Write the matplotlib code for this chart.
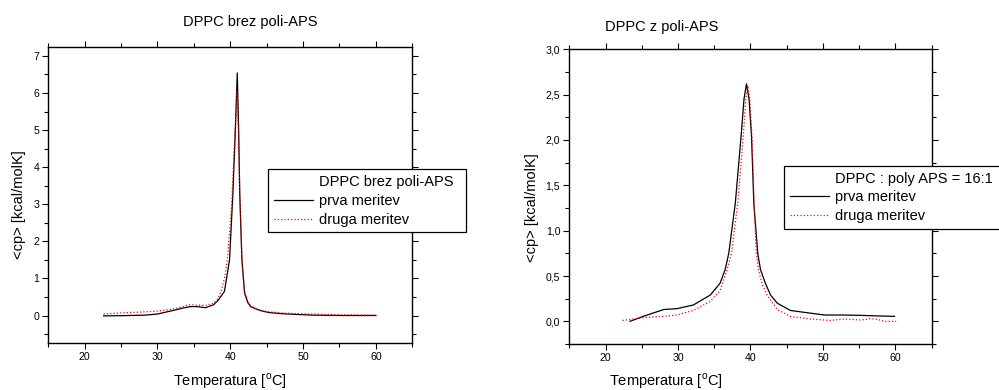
import matplotlib
matplotlib.use("Agg")
import matplotlib.pyplot as plt
from matplotlib.lines import Line2D
from matplotlib.ticker import MultipleLocator

plt.rcParams['font.family'] = ['Liberation Sans', 'DejaVu Sans']
plt.rcParams['mathtext.fontset'] = 'custom'
plt.rcParams['mathtext.rm'] = 'Liberation Sans'

# --- DPPC brez poli-APS (levi graf) ---
t1_prva = [22.6, 25.0, 28.3, 30.0, 32.0, 33.5, 34.5, 35.5, 36.6, 37.7, 38.3, 39.2,
           39.9, 40.36, 40.7, 40.96, 41.15, 41.3, 41.6, 41.97, 42.4, 42.8, 43.5,
           44.2, 45.3, 47.0, 49.0, 51.3, 55.0, 60.0]
cp1_prva = [-0.01, -0.005, 0.01, 0.04, 0.13, 0.2, 0.24, 0.24, 0.21, 0.29, 0.4, 0.65,
            1.5, 3.3, 5.0, 6.54, 5.0, 3.3, 1.5, 0.6, 0.35, 0.24, 0.18,
            0.13, 0.08, 0.05, 0.03, 0.01, 0.0, 0.0]
t1_druga = [22.6, 25.0, 28.35, 30.0, 32.0, 33.5, 34.3, 35.5, 36.6, 37.7, 38.3, 38.8,
            39.2, 39.6, 40.2, 40.6, 40.95, 41.15, 41.3, 41.6, 41.95, 42.4, 42.8,
            43.5, 44.2, 45.3, 47.0, 49.0, 51.3, 55.0, 60.0]
cp1_druga = [0.04, 0.07, 0.10, 0.12, 0.17, 0.24, 0.29, 0.28, 0.27, 0.33, 0.45, 0.69,
             1.0, 1.5, 3.0, 4.8, 6.03, 4.8, 3.3, 1.5, 0.65, 0.38, 0.26,
             0.19, 0.14, 0.1, 0.07, 0.05, 0.04, 0.02, 0.01]

# --- DPPC z poli-APS (desni graf) ---
t2_prva = [23.37, 25.2, 28.0, 29.84, 32.1, 34.45, 35.8, 36.5, 37.0, 37.9, 38.7, 39.1,
           39.45, 39.8, 40.14, 40.46, 41.0, 41.38, 42.1, 42.77, 43.7, 45.5, 48.3,
           50.2, 52.5, 55.2, 57.5, 59.86]
cp2_prva = [0.0, 0.055, 0.13, 0.14, 0.18, 0.29, 0.42, 0.57, 0.75, 1.30, 2.04, 2.45,
            2.62, 2.45, 2.04, 1.30, 0.75, 0.57, 0.41, 0.29, 0.2, 0.12, 0.09,
            0.07, 0.07, 0.066, 0.06, 0.055]
t2_druga = [22.35, 25.2, 28.0, 29.84, 32.1, 34.45, 35.8, 36.77, 37.37, 38.24, 39.0,
            39.35, 39.63, 39.9, 40.2, 40.5, 40.8, 41.1, 41.6, 42.3, 43.7, 45.5,
            48.3, 51.0, 52.9, 55.2, 56.6, 57.6, 58.5, 60.1]
cp2_druga = [0.01, 0.04, 0.055, 0.07, 0.12, 0.22, 0.34, 0.57, 0.75, 1.30, 2.04,
             2.45, 2.60, 2.45, 2.04, 1.30, 0.75, 0.57, 0.41, 0.29, 0.13, 0.055,
             0.026, 0.01, 0.026, 0.015, 0.03, 0.02, 0.0, 0.0]

xticks = [20, 30, 40, 50, 60]
yticks1 = [0, 1, 2, 3, 4, 5, 6, 7]
ylabels1 = ['0', '1', '2', '3', '4', '5', '6', '7']
yticks2 = [0.0, 0.5, 1.0, 1.5, 2.0, 2.5, 3.0]
ylabels2 = ['0,0', '0,5', '1,0', '1,5', '2,0', '2,5', '3,0']

fig = plt.figure(figsize=(9.99, 3.9), dpi=100)
ax1 = fig.add_axes([0.0483, 0.1197, 0.3644, 0.7606])
ax2 = fig.add_axes([0.5699, 0.1179, 0.3627, 0.7557])


def style(ax, yt, yl, yminor):
    ax.set_xlim(15, 65)
    ax.set_xticks(xticks)
    ax.xaxis.set_minor_locator(MultipleLocator(5))
    ax.set_yticks(yt)
    ax.set_yticklabels(yl)
    ax.yaxis.set_minor_locator(MultipleLocator(yminor))
    ax.tick_params(which='both', direction='out', top=True, right=True,
                   labeltop=False, labelright=False, labelsize=7.6, pad=2,
                   width=0.8)
    ax.tick_params(which='major', length=4.5)
    ax.tick_params(which='minor', length=3)
    for s in ax.spines.values():
        s.set_linewidth(1.0)


def add_legend(ax, title, x0, y0, w):
    handles = [Line2D([], [], color='none'),
               Line2D([], [], color='black', lw=0.9),
               Line2D([], [], color='red', lw=0.9, ls=':')]
    leg = ax.legend(handles, [title, 'prva meritev', 'druga meritev'],
                    loc='upper left', bbox_to_anchor=(x0, y0, w, 0), mode='expand',
                    borderaxespad=0,
                    fontsize=10.5, frameon=True, fancybox=False, framealpha=1,
                    edgecolor='black', handlelength=2.7, handletextpad=0.36,
                    borderpad=0.4, labelspacing=0.33)
    leg.get_frame().set_linewidth(0.9)


ax1.plot(t1_prva, cp1_prva, color='black', lw=0.9)
ax1.plot(t1_druga, cp1_druga, color='red', lw=0.9, ls=':')
ax1.set_ylim(-0.75, 7.25)
style(ax1, yticks1, ylabels1, 0.5)
add_legend(ax1, 'DPPC brez poli-APS', 0.604, 0.587, 0.543)

ax2.plot(t2_prva, cp2_prva, color='black', lw=0.9)
ax2.plot(t2_druga, cp2_druga, color='red', lw=0.9, ls=':')
ax2.set_ylim(-0.25, 3.0)
style(ax2, yticks2, ylabels2, 0.25)
add_legend(ax2, 'DPPC : poly APS = 16:1', 0.593, 0.605, 0.62)

fig.text(250 / 999, 1 - 22 / 390, 'DPPC brez poli-APS', ha='center', va='center', fontsize=10.5)
fig.text(662 / 999, 1 - 26.7 / 390, 'DPPC z poli-APS', ha='center', va='center', fontsize=10.5)
fig.text(229.7 / 999, 1 - 381 / 390, r'Temperatura [$^\mathrm{o}$C]', ha='center', va='center', fontsize=10.5)
fig.text(666 / 999, 1 - 381 / 390, r'Temperatura [$^\mathrm{o}$C]', ha='center', va='center', fontsize=10.5)
fig.text(19 / 999, 1 - 205 / 390, '<cp> [kcal/molK]', ha='center', va='center', rotation=90, fontsize=10.5)
fig.text(531.7 / 999, 1 - 208 / 390, '<cp> [kcal/molK]', ha='center', va='center', rotation=90, fontsize=10.5)

fig.savefig('out.png', dpi=100)
